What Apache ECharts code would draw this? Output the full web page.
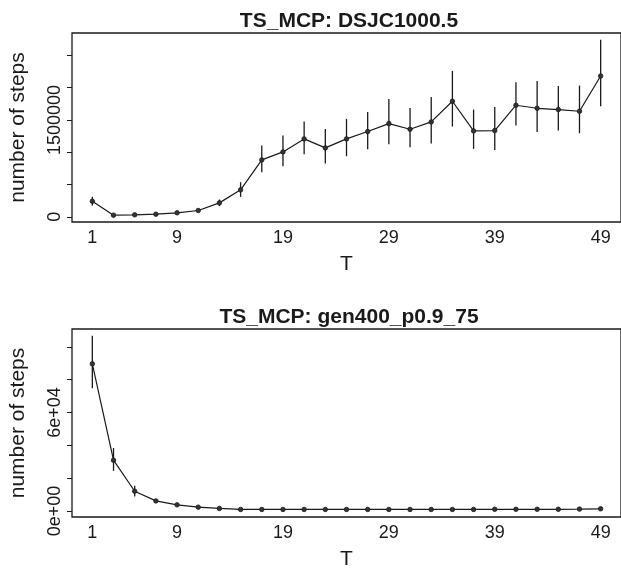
<!DOCTYPE html>
<html><head><meta charset="utf-8">
<script src="https://cdn.jsdelivr.net/npm/echarts@6/dist/echarts.min.js"></script>
<style>html,body{margin:0;padding:0;background:#fff}#c{width:621px;height:571px}</style>
</head><body><div id="c"></div>
<script>
// ---- data ----
const T = [1,3,5,7,9,11,13,15,17,19,21,23,25,27,29,31,33,35,37,39,41,43,45,47,49];
const xTickLabels = [1,9,19,29,39,49];

const title1 = "TS_MCP: DSJC1000.5";
const mean1 = [242000,26000,31000,41000,62000,98000,216000,418000,881000,1005000,1206000,1067000,1206000,1320000,1443000,1356000,1469000,1789000,1330000,1335000,1727000,1680000,1660000,1634000,2180000];
const low1  = [175000,20000,25000,33000,50000,80000,165000,309000,691000,784000,969000,825000,938000,1046000,1124000,1077000,1134000,1397000,1052000,1036000,1412000,1314000,1335000,1294000,1711000];
const high1 = [309000,32000,37000,49000,74000,116000,268000,536000,1103000,1258000,1474000,1361000,1516000,1624000,1825000,1686000,1856000,2258000,1660000,1701000,2083000,2103000,2026000,2031000,2742000];
const yTicks1 = [0,500000,1000000,1500000,2000000,2500000];
const yLabels1 = [0,1500000];

const title2 = "TS_MCP: gen400_p0.9_75";
const mean2 = [89700,31000,12100,6200,3800,2400,1600,1000,1000,1000,1000,1000,1000,1000,1000,1000,1000,1000,1000,1100,1100,1100,1100,1200,1400];
const low2  = [74800,24500,8900,5200,3300,2100,1400,900,900,900,900,900,900,900,900,900,900,900,900,1000,1000,1000,1000,1100,1300];
const high2 = [106800,38400,15500,7200,4300,2700,1800,1100,1100,1100,1100,1100,1100,1100,1100,1100,1100,1100,1100,1200,1200,1200,1200,1300,1500];
const yTicks2 = [0,20000,40000,60000,80000,100000];
const yLabels2 = [0,60000];

const xLabel = "T";
const yLabel = "number of steps";

// ---- chart ----
const FONT = "Liberation Sans";
const INK = "#1a1a1a";
function rsci(v){
  if (v === 0) return "0e+00";
  const s = v.toExponential();
  const m = s.split("e");
  const sign = m[1][0];
  let e = m[1].slice(1);
  if (e.length < 2) e = "0" + e;
  return m[0] + "e" + sign + e;
}
function pairs(ys){ return T.map((t,i)=>[t, ys[i]]); }
function bars(lo,hi){ return T.map((t,i)=>[t, lo[i], hi[i]]); }

const grids = [
  {left:72, top:33, width:554, height:189},
  {left:72, top:329, width:554, height:190}
];
const chart = echarts.init(document.getElementById('c'), null, {renderer:'canvas'});

function xAxisCfg(gi){
  return {
    gridIndex: gi, type:'value', min:-0.92, max:50.92, position:'bottom',
    axisLine:{show:false, onZero:false}, axisTick:{show:false}, splitLine:{show:false},
    axisLabel:{customValues:xTickLabels, color:INK, fontSize:18, fontFamily:FONT, margin:7},
    name:xLabel, nameLocation:'middle', nameGap:32,
    nameTextStyle:{color:INK, fontSize:21, fontFamily:FONT}
  };
}
function yAxisCfg(gi, min, max, ticks, labels, fmt){
  return {
    gridIndex: gi, type:'value', min:min, max:max, position:'left',
    axisLine:{show:false, onZero:false}, splitLine:{show:false},
    axisTick:{show:true, inside:false, customValues:ticks, length:5, lineStyle:{color:INK, width:1}},
    axisLabel:{customValues:labels, inside:false, rotate:90, color:INK, fontSize:18, fontFamily:FONT, margin:8, formatter:fmt},
    name:yLabel, nameLocation:'middle', nameGap:43,
    nameTextStyle:{color:INK, fontSize:21, fontFamily:FONT}
  };
}
function errSeries(gi, data){
  return {
    type:'custom', xAxisIndex:gi, yAxisIndex:gi, data:data, silent:true, z:3,
    renderItem:function(params, api){
      const a = api.coord([api.value(0), api.value(1)]);
      const b = api.coord([api.value(0), api.value(2)]);
      return {type:'line', shape:{x1:a[0], y1:a[1], x2:b[0], y2:b[1]},
              style:{stroke:INK, lineWidth:1.3}};
    }
  };
}
function lineSeries(gi, data){
  return {
    type:'line', xAxisIndex:gi, yAxisIndex:gi, data:data, z:4,
    symbol:'circle', symbolSize:4.5, showSymbol:true,
    lineStyle:{color:INK, width:1.2}, itemStyle:{color:'#333', borderColor:INK, borderWidth:0.8},
    animation:false, silent:true
  };
}

chart.setOption({
  animation:false,
  grid: grids.map(g=>Object.assign({show:true, borderColor:INK, borderWidth:1.3, backgroundColor:'transparent'}, g)),
  xAxis:[xAxisCfg(0), xAxisCfg(1)],
  yAxis:[
    yAxisCfg(0, -80000, 2845000, yTicks1, yLabels1, v=>String(v)),
    yAxisCfg(1, -3600, 110900, yTicks2, yLabels2, v=>rsci(v))
  ],
  series:[
    errSeries(0, bars(low1, high1)),
    lineSeries(0, pairs(mean1)),
    errSeries(1, bars(low2, high2)),
    lineSeries(1, pairs(mean2))
  ],
  graphic:[
    {type:'text', x:349, y:21, style:{text:title1, textAlign:'center', textVerticalAlign:'middle', font:'bold 21px "Liberation Sans"', fill:INK}},
    {type:'text', x:349, y:317, style:{text:title2, textAlign:'center', textVerticalAlign:'middle', font:'bold 21px "Liberation Sans"', fill:INK}}
  ]
});
</script>
</body></html>
